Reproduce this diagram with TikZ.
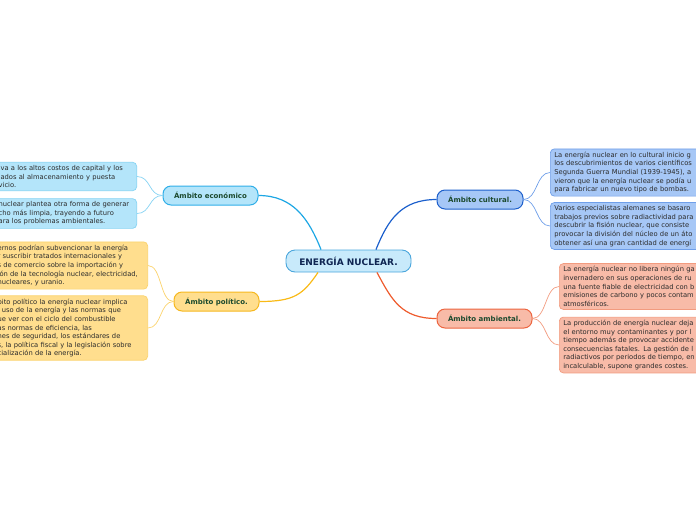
\documentclass[tikz,border=0pt]{standalone}
\usepackage{fontspec}
\setmainfont{DejaVu Sans}
\usepackage{xcolor}
\usepackage{tikz}
\definecolor{centrefill}{HTML}{C8EAFB}
\definecolor{centreline}{HTML}{4AA6DC}
\definecolor{centretext}{HTML}{0F2552}
\definecolor{branchtext}{HTML}{1C4A2E}
\definecolor{leaftext}{HTML}{2B2B2B}
\definecolor{econfill}{HTML}{B4E5FA}
\definecolor{econline}{HTML}{2FAEE8}
\definecolor{econleafline}{HTML}{86D3F3}
\definecolor{econlink}{HTML}{1EA7E4}
\definecolor{polfill}{HTML}{FFDE8E}
\definecolor{polline}{HTML}{F6B81F}
\definecolor{polleafline}{HTML}{FBD36C}
\definecolor{pollink}{HTML}{F9BA16}
\definecolor{cultfill}{HTML}{A6C7F6}
\definecolor{cultline}{HTML}{1C5FCB}
\definecolor{cultleafline}{HTML}{6F9FE9}
\definecolor{cultlink}{HTML}{1B5FCC}
\definecolor{ambfill}{HTML}{F8BBA8}
\definecolor{ambline}{HTML}{EC6540}
\definecolor{ambleafline}{HTML}{F29B7F}
\definecolor{amblink}{HTML}{EE5B2D}

\begin{document}
\begin{tikzpicture}[x=1pt,y=-1pt,
    centre/.style={rounded corners=9pt, line width=0.9pt, fill=centrefill, draw=centreline,
      minimum width=125pt, minimum height=22pt, inner sep=0pt, text=centretext,
      font=\fontsize{9}{11}\selectfont\bfseries},
    branch/.style={rounded corners=8pt, line width=1pt, minimum height=19pt, inner sep=0pt,
      text=branchtext, font=\fontsize{7}{8}\selectfont\bfseries},
    leaf/.style={rounded corners=4pt, line width=0.7pt, inner xsep=4pt, inner ysep=3pt,
      align=left, text=leaftext, font=\fontsize{6.75}{8.6}\selectfont},
    mainlink/.style={line width=1.2pt},
    leaflink/.style={line width=0.7pt}]
  \useasboundingbox (0,0) rectangle (696,520);
  \clip (0,0) rectangle (696,520);

  \node[centre] (c) at (348.5,261) {ENERGÍA NUCLEAR.};

  \node[branch, fill=econfill, draw=econline, minimum width=95pt] (eco) at (210.5,195.5) {Ámbito económico};
  \node[branch, fill=polfill, draw=polline, minimum width=85pt] (pol) at (216.5,301.5) {Ámbito político.};
  \node[branch, fill=cultfill, draw=cultline, minimum width=86pt] (cul) at (480,199.5) {Ámbito cultural.};
  \node[branch, fill=ambfill, draw=ambline, minimum width=95pt] (amb) at (484.5,318.5) {Ámbito ambiental.};

  \node[leaf, fill=econfill, draw=econleafline, anchor=east, text width=134pt] (e1) at (137,176.5)
    {iva a los altos costos de capital y los\\lados al almacenamiento y puesta\\vicio.};
  \node[leaf, fill=econfill, draw=econleafline, anchor=east, text width=134pt] (e2) at (137,213.5)
    {nuclear plantea otra forma de generar\\cho más limpia, trayendo a futuro\\ara los problemas ambientales.};

  \node[leaf, fill=polfill, draw=polleafline, anchor=east, text width=146pt] (p1) at (148,265.5)
    {ernos podrían subvencionar la energía\\r suscribir tratados internacionales y\\s de comercio sobre la importación y\\ión de la tecnología nuclear, electricidad,\\nucleares, y uranio.};
  \node[leaf, fill=polfill, draw=polleafline, anchor=east, text width=146pt] (p2) at (148,328)
    {bito político la energía nuclear implica\\l uso de la energía y las normas que\\ue ver con el ciclo del combustible\\as normas de eficiencia, las\\nes de seguridad, los estándares de\\s, la política fiscal y la legislación sobre\\cialización de la energía.};

  \node[leaf, fill=cultfill, draw=cultleafline, anchor=west, text width=200pt] (k1) at (550,172.5)
    {La energía nuclear en lo cultural inicio g\\los descubrimientos de varios científicos\\Segunda Guerra Mundial (1939-1945), a\\vieron que la energía nuclear se podía u\\para fabricar un nuevo tipo de bombas.};
  \node[leaf, fill=cultfill, draw=cultleafline, anchor=west, text width=200pt] (k2) at (550,226)
    {Varios especialistas alemanes se basaro\\trabajos previos sobre radiactividad para\\descubrir la fisión nuclear, que consiste\\provocar la división del núcleo de un áto\\obtener así una gran cantidad de energí};

  \node[leaf, fill=ambfill, draw=ambleafline, anchor=west, text width=200pt] (a1) at (559,286.5)
    {La energía nuclear no libera ningún ga\\invernadero en sus operaciones de ru\\una fuente fiable de electricidad con b\\emisiones de carbono y pocos contam\\atmosféricos.};
  \node[leaf, fill=ambfill, draw=ambleafline, anchor=west, text width=200pt] (a2) at (559,345)
    {La producción de energía nuclear deja\\el entorno muy contaminantes y por l\\tiempo además de provocar accidente\\consecuencias fatales. La gestión de l\\radiactivos por periodos de tiempo, en\\incalculable, supone grandes costes.};

  \draw[mainlink, econlink] ([xshift=-27.5pt]c.north) .. controls +(-12,-30) and +(35,0) .. (eco.east);
  \draw[mainlink, cultlink] ([xshift=27.5pt]c.north) .. controls +(12,-30) and +(-35,0) .. (cul.west);
  \draw[mainlink, pollink] ([xshift=-30.5pt]c.south) .. controls +(-15,22) and +(35,0) .. (pol.east);
  \draw[mainlink, amblink] ([xshift=28.5pt]c.south) .. controls +(15,28) and +(-35,0) .. (amb.west);

  \draw[leaflink, econleafline] (eco.west) .. controls +(-14,0) and +(14,0) .. (e1.east);
  \draw[leaflink, econleafline] (eco.west) .. controls +(-14,0) and +(14,0) .. (e2.east);
  \draw[leaflink, polleafline] (pol.west) .. controls +(-14,0) and +(14,0) .. (p1.east);
  \draw[leaflink, polleafline] (pol.west) .. controls +(-14,0) and +(14,0) .. (p2.east);
  \draw[leaflink, cultleafline] (cul.east) .. controls +(14,0) and +(-14,0) .. (k1.west);
  \draw[leaflink, cultleafline] (cul.east) .. controls +(14,0) and +(-14,0) .. (k2.west);
  \draw[leaflink, ambleafline] (amb.east) .. controls +(14,0) and +(-14,0) .. (a1.west);
  \draw[leaflink, ambleafline] (amb.east) .. controls +(14,0) and +(-14,0) .. (a2.west);
\end{tikzpicture}
\end{document}
